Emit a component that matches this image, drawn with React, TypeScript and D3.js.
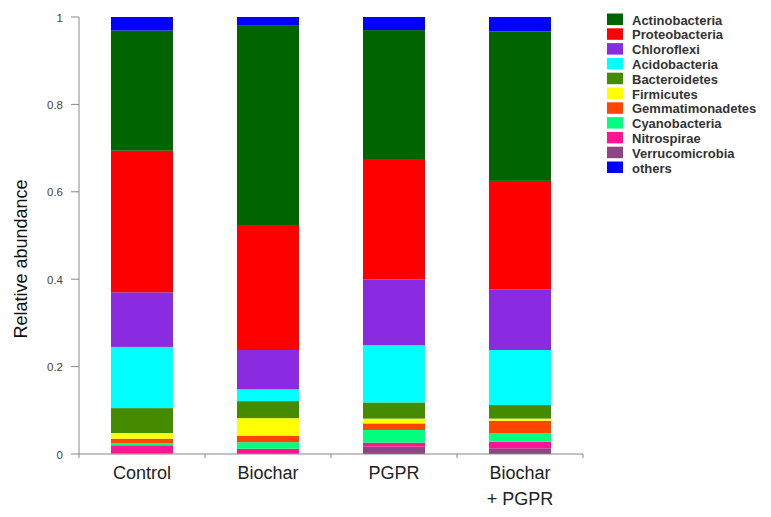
import React from "react";
import * as d3 from "d3";

const categories = ["Control", "Biochar", "PGPR", "Biochar\n+ PGPR"];
const phyla = [
  "Verrucomicrobia",
  "Nitrospirae",
  "Cyanobacteria",
  "Gemmatimonadetes",
  "Firmicutes",
  "Bacteroidetes",
  "Acidobacteria",
  "Chloroflexi",
  "Proteobacteria",
  "Actinobacteria",
  "others",
];
const legendOrder = [
  "Actinobacteria",
  "Proteobacteria",
  "Chloroflexi",
  "Acidobacteria",
  "Bacteroidetes",
  "Firmicutes",
  "Gemmatimonadetes",
  "Cyanobacteria",
  "Nitrospirae",
  "Verrucomicrobia",
  "others",
];
const colors: Record<string, string> = {
  Actinobacteria: "#006400",
  Proteobacteria: "#ff0000",
  Chloroflexi: "#8a2be2",
  Acidobacteria: "#00ffff",
  Bacteroidetes: "#458b00",
  Firmicutes: "#ffff00",
  Gemmatimonadetes: "#ff4500",
  Cyanobacteria: "#00ff7f",
  Nitrospirae: "#ff1493",
  Verrucomicrobia: "#8e4585",
  others: "#0000ff",
};

// values per category, in phyla order (bottom to top)
const controlValues = [0.001, 0.019, 0.005, 0.010, 0.013, 0.057, 0.140, 0.125, 0.324, 0.275, 0.031];
const biocharValues = [0.002, 0.010, 0.015, 0.015, 0.040, 0.039, 0.027, 0.090, 0.286, 0.456, 0.020];
const pgprValues = [0.017, 0.009, 0.029, 0.015, 0.011, 0.037, 0.131, 0.150, 0.276, 0.295, 0.030];
const biocharPgprValues = [0.013, 0.015, 0.019, 0.029, 0.005, 0.031, 0.126, 0.138, 0.249, 0.342, 0.033];
const seriesValues = [controlValues, biocharValues, pgprValues, biocharPgprValues];
const yTicks = [0, 0.2, 0.4, 0.6, 0.8, 1];

export default function App() {
  const left = 79;
  const right = 583;
  const top = 17;
  const bottom = 454;

  const x = d3.scaleBand<string>().domain(categories).range([left, right]).paddingInner(0.508).paddingOuter(0.254);
  const y = d3.scaleLinear().domain([0, 1]).range([bottom, top]);

  const rows = categories.map((c, i) => {
    const r: Record<string, any> = { cat: c };
    phyla.forEach((p, j) => (r[p] = seriesValues[i][j]));
    return r;
  });
  const stacked = d3.stack<any>().keys(phyla)(rows);

  const bandEdges = categories.map((_, i) => left + i * ((right - left) / categories.length));
  bandEdges.push(right);

  const font = "Liberation Sans, Arial, sans-serif";

  return (
    <svg width={771} height={517} style={{ position: "absolute", left: 0, top: 0, background: "#fff" }} fontFamily={font}>
      {stacked.map((s) => (
        <g key={s.key} fill={colors[s.key]}>
          {s.map((d, i) => (
            <rect
              key={i}
              x={x(categories[i])}
              width={x.bandwidth()}
              y={y(d[1])}
              height={Math.max(0, y(d[0]) - y(d[1]))}
            />
          ))}
        </g>
      ))}
      {/* y axis */}
      <line x1={left} x2={left} y1={top} y2={bottom} stroke="#888" strokeWidth={1} />
      {yTicks.map((t) => (
        <g key={t}>
          <line x1={left - 8} x2={left} y1={y(t)} y2={y(t)} stroke="#888" />
          <text x={63} y={y(t) + 4.5} textAnchor="end" fontSize={11.5} fill="#444">
            {String(t)}
          </text>
        </g>
      ))}
      {/* x axis */}
      <line x1={left} x2={right} y1={bottom} y2={bottom} stroke="#888" strokeWidth={1} />
      {bandEdges.map((e, i) => (
        <line key={i} x1={e} x2={e} y1={bottom} y2={bottom + 4} stroke="#888" />
      ))}
      {categories.map((c) => {
        const lines = c.split("\n");
        const cx = (x(c) as number) + x.bandwidth() / 2;
        return (
          <text key={c} x={cx} y={479} textAnchor="middle" fontSize={18} fill="#222">
            {lines.map((l, k) => (
              <tspan key={k} x={cx} dy={k === 0 ? 0 : 26}>
                {l}
              </tspan>
            ))}
          </text>
        );
      })}
      <text transform="translate(27,259) rotate(-90)" textAnchor="middle" fontSize={18} fill="#111">
        Relative abundance
      </text>
      {/* legend */}
      {legendOrder.map((p, i) => {
        const yy = 13.5 + i * 14.8;
        return (
          <g key={p}>
            <rect x={607} y={yy} width={16} height={11.5} fill={colors[p]} />
            <text x={632} y={yy + 11} fontSize={13} fontWeight="bold" fill="#333">
              {p}
            </text>
          </g>
        );
      })}
    </svg>
  );
}
